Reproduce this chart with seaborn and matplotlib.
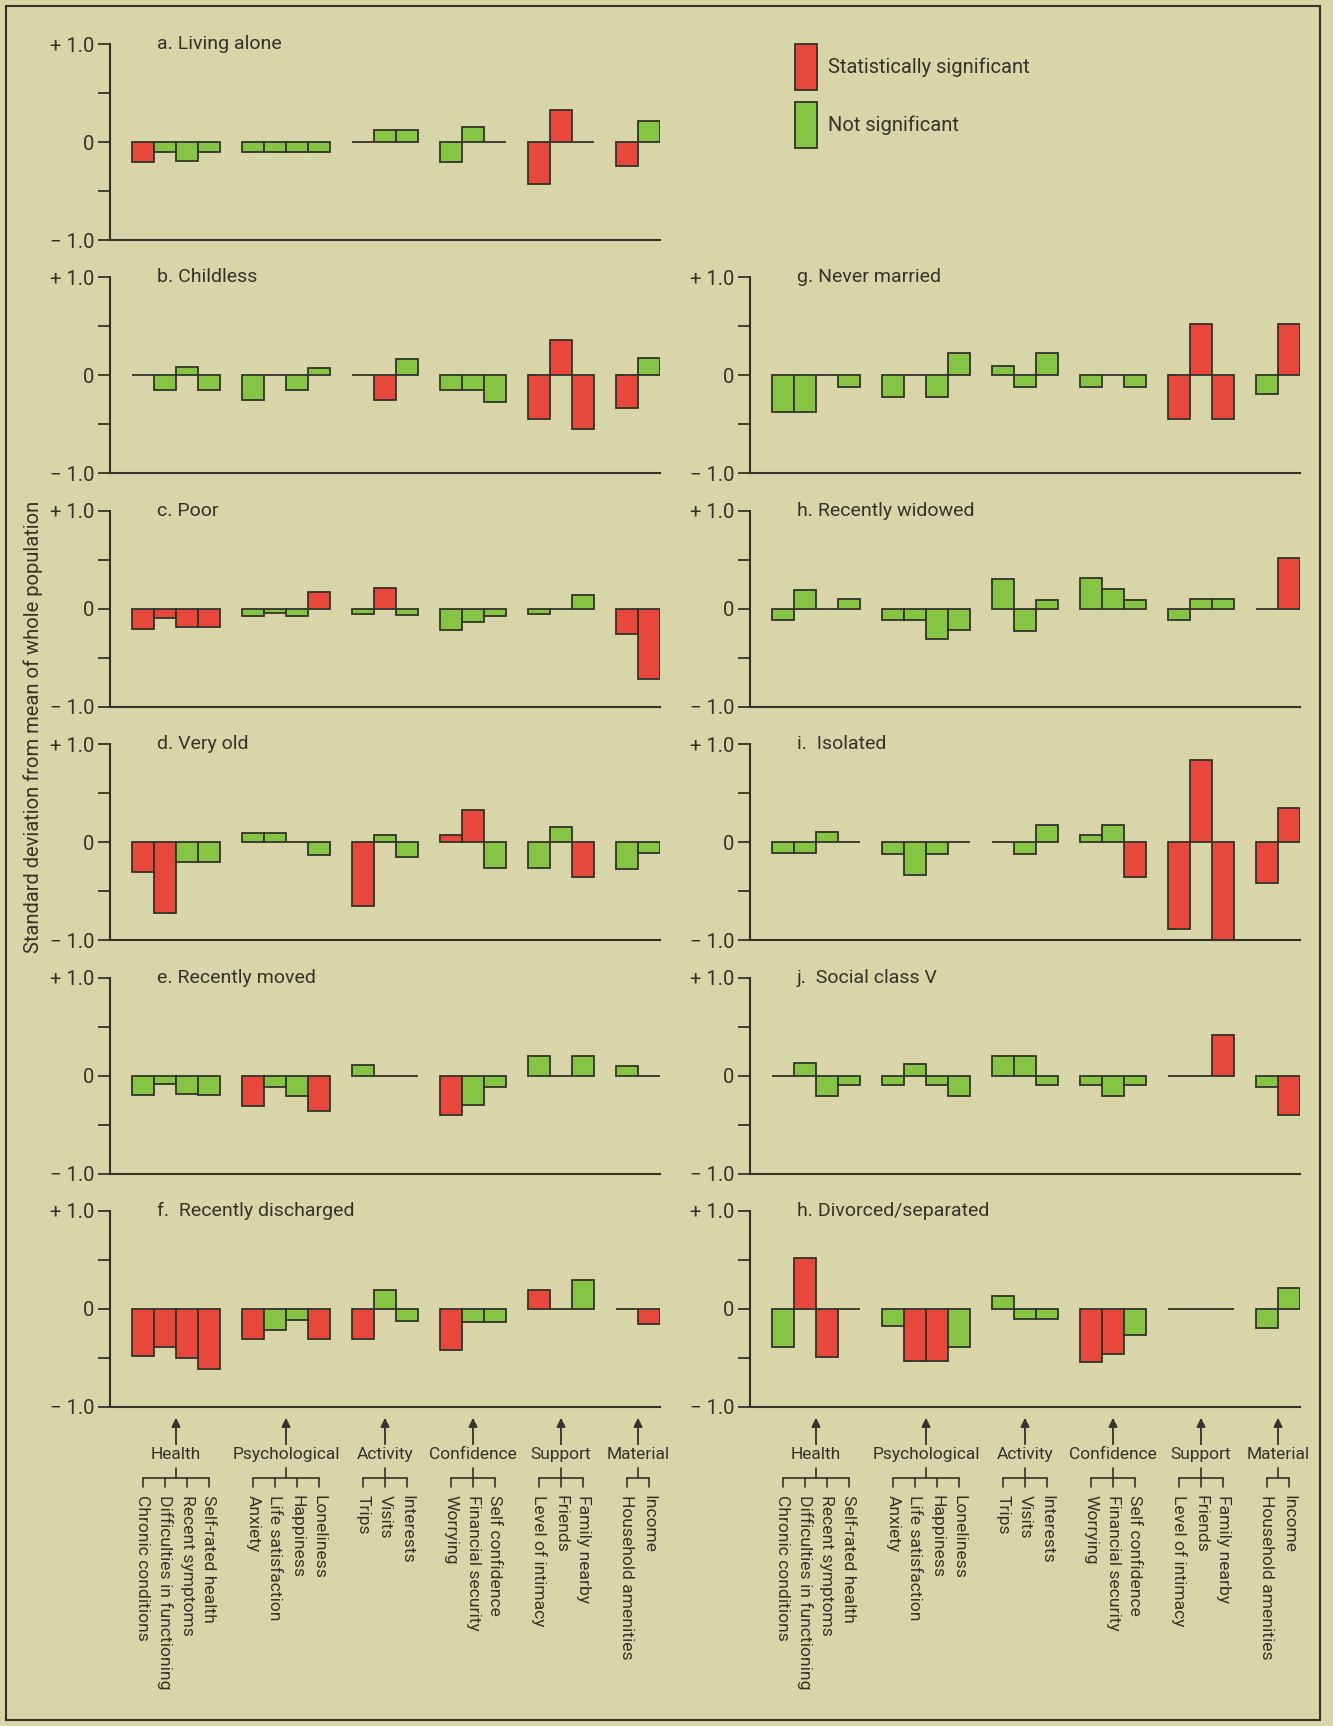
import numpy as np
import pandas as pd
import matplotlib
matplotlib.use("Agg")
import matplotlib.pyplot as plt
import matplotlib.transforms as mtransforms
from matplotlib.patches import Rectangle, Patch
import seaborn as sns

# ---------------- data ----------------
group_names = ["Health", "Psychological", "Activity", "Confidence", "Support", "Material"]
health = ["Chronic conditions", "Difficulties in functioning", "Recent symptoms", "Self-rated health"]
psychological = ["Anxiety", "Life satisfaction", "Happiness", "Loneliness"]
activity = ["Trips", "Visits", "Interests"]
confidence = ["Worrying", "Financial security", "Self confidence"]
support = ["Level of intimacy", "Friends", "Family nearby"]
material = ["Household amenities", "Income"]
group_items = [health, psychological, activity, confidence, support, material]

legend_labels = ["Statistically significant", "Not significant"]

# values (standard deviations from mean) and significance (S / N) per panel
a_title = "a. Living alone"
a_vals = [-0.20, -0.10, -0.19, -0.10, -0.10, -0.10, -0.10, -0.10, 0.0, 0.12, 0.12,
          -0.20, 0.15, 0.0, -0.43, 0.33, 0.0, -0.24, 0.21]
a_sig = "SNNN NNNN NNN NNN SSN SN"

b_title = "b. Childless"
b_vals = [0.0, -0.15, 0.09, -0.15, -0.25, 0.0, -0.15, 0.08, 0.0, -0.255, 0.165,
          -0.15, -0.15, -0.27, -0.45, 0.36, -0.55, -0.33, 0.18]
b_sig = "NNNN NNNN NSN NNN SSS SN"

c_title = "c. Poor"
c_vals = [-0.21, -0.095, -0.19, -0.19, -0.07, -0.04, -0.07, 0.17, -0.055, 0.21, -0.06,
          -0.22, -0.13, -0.07, -0.05, 0.0, 0.14, -0.26, -0.72]
c_sig = "SSSS NNNS NSN NNN NNN SS"

d_title = "d. Very old"
d_vals = [-0.30, -0.72, -0.20, -0.20, 0.09, 0.09, 0.0, -0.13, -0.65, 0.07, -0.15,
          0.07, 0.33, -0.26, -0.26, 0.16, -0.35, -0.27, -0.11]
d_sig = "SSNN NNNN SNN SSN NNS NN"

e_title = "e. Recently moved"
e_vals = [-0.20, -0.09, -0.19, -0.20, -0.31, -0.12, -0.21, -0.36, 0.107, 0.0, 0.0,
          -0.40, -0.30, -0.12, 0.20, 0.0, 0.20, 0.10, 0.0]
e_sig = "NNNN SNNS NNN SNN NNN NN"

f_title = "f.  Recently discharged"
f_vals = [-0.48, -0.39, -0.50, -0.61, -0.31, -0.21, -0.11, -0.31, -0.31, 0.19, -0.12,
          -0.42, -0.13, -0.13, 0.19, 0.0, 0.30, 0.0, -0.15]
f_sig = "SSSS SNNS SNN SNN SNN NS"

g_title = "g. Never married"
g_vals = [-0.37, -0.37, 0.0, -0.12, -0.22, 0.0, -0.22, 0.23, 0.10, -0.12, 0.23,
          -0.12, 0.0, -0.12, -0.44, 0.52, -0.44, -0.19, 0.52]
g_sig = "NNNN NNNN NNN NNN SSS NS"

h_title = "h. Recently widowed"
h_vals = [-0.115, 0.196, 0.0, 0.10, -0.115, -0.115, -0.31, -0.22, 0.30, -0.23, 0.09,
          0.31, 0.20, 0.09, -0.11, 0.095, 0.095, 0.0, 0.52]
h_sig = "NNNN NNNN NNN NNN NNN NS"

i_title = "i.  Isolated"
i_vals = [-0.11, -0.11, 0.10, 0.0, -0.125, -0.33, -0.125, 0.0, 0.0, -0.125, 0.18,
          0.075, 0.18, -0.35, -0.89, 0.84, -1.0, -0.42, 0.35]
i_sig = "NNNN NNNN NNN NNS SSS SS"

j_title = "j.  Social class V"
j_vals = [0.0, 0.124, -0.21, -0.10, -0.10, 0.114, -0.10, -0.21, 0.20, 0.20, -0.10,
          -0.10, -0.21, -0.10, 0.0, 0.0, 0.41, -0.12, -0.40]
j_sig = "NNNN NNNN NNN NNN NNS NS"

k_title = "h. Divorced/separated"
k_vals = [-0.385, 0.52, -0.49, 0.0, -0.17, -0.53, -0.53, -0.385, 0.13, -0.10, -0.10,
          -0.54, -0.46, -0.27, 0.0, 0.0, 0.0, -0.19, 0.21]
k_sig = "NSSN NSSN NNN SSN NNN NN"

left_panels = [(a_title, a_vals, a_sig), (b_title, b_vals, b_sig), (c_title, c_vals, c_sig),
               (d_title, d_vals, d_sig), (e_title, e_vals, e_sig), (f_title, f_vals, f_sig)]
right_panels = [None, (g_title, g_vals, g_sig), (h_title, h_vals, h_sig),
                (i_title, i_vals, i_sig), (j_title, j_vals, j_sig), (k_title, k_vals, k_sig)]

# ---------------- style ----------------
BG = "#d8d5a8"
RED = "#e8473c"
GREEN = "#86c443"
INK = "#33332a"

sns.set_theme(style="ticks")
plt.rcParams["font.family"] = ["Roboto", "DejaVu Sans"]
plt.rcParams["text.color"] = INK
plt.rcParams["axes.edgecolor"] = INK
plt.rcParams["xtick.color"] = INK
plt.rcParams["ytick.color"] = INK
plt.rcParams["axes.labelcolor"] = INK

W, H = 1333, 1726
fig = plt.figure(figsize=(W / 100, H / 100), dpi=100)
fig.patch.set_facecolor(BG)

# slot positions: bars adjacent inside a group, one empty slot between groups
positions = []
group_pos = []
slot = 0
for items in group_items:
    gp = []
    for _ in items:
        positions.append(slot)
        gp.append(slot)
        slot += 1
    group_pos.append(gp)
    slot += 1
measures = [m for items in group_items for m in items]

palette = {legend_labels[0]: RED, legend_labels[1]: GREEN}


def draw_panel(ax, title, vals, sig):
    flags = sig.replace(" ", "")
    df = pd.DataFrame({
        "pos": positions,
        "value": vals,
        "sig": [legend_labels[0] if f == "S" else legend_labels[1] for f in flags],
    })
    sns.barplot(data=df, x="pos", y="value", hue="sig", hue_order=legend_labels,
                palette=palette, native_scale=True, width=1.0, dodge=False,
                saturation=1, edgecolor=INK, linewidth=1.3, errorbar=None,
                legend=False, ax=ax)
    ax.set_xlim(-1.5, positions[-1] + 0.5)
    ax.set_ylim(-1, 1)
    ax.set_facecolor("none")
    ax.set_xlabel("")
    ax.set_ylabel("")
    ax.set_xticks([])
    ax.set_yticks([-1, -0.5, 0, 0.5, 1])
    ax.set_yticklabels(["\u2212 1.0", "", "0", "", "+ 1.0"])
    ax.tick_params(axis="y", direction="out", length=9, width=1.3, labelsize=14.5, pad=2)
    for s in ["top", "right"]:
        ax.spines[s].set_visible(False)
    for s in ["left", "bottom"]:
        ax.spines[s].set_linewidth(1.5)
        ax.spines[s].set_color(INK)
    ax.text(0.085, 1.0, title, transform=ax.transAxes, ha="left", va="center", fontsize=14)


def draw_categories(ax):
    trans = mtransforms.blended_transform_factory(ax.transData, ax.transAxes)
    idx = 0
    for gname, gp in zip(group_names, group_pos):
        cx = float(np.mean(gp))
        ax.annotate("", xy=(cx, -0.055), xytext=(cx, -0.19), xycoords=trans, textcoords=trans,
                    arrowprops=dict(arrowstyle="-|>", color=INK, lw=1.3, mutation_scale=13,
                                    shrinkA=0, shrinkB=0),
                    annotation_clip=False)
        ax.text(cx, -0.24, gname, transform=trans, ha="center", va="center", fontsize=12.5)
        yb = -0.36
        ax.plot([gp[0], gp[-1]], [yb, yb], transform=trans, color=INK, lw=1.2, clip_on=False)
        ax.plot([cx, cx], [yb, yb + 0.05], transform=trans, color=INK, lw=1.2, clip_on=False)
        for p in gp:
            ax.plot([p, p], [yb, yb - 0.05], transform=trans, color=INK, lw=1.2, clip_on=False)
            ax.text(p, -0.45, measures[idx], transform=trans, rotation=270,
                    ha="center", va="top", fontsize=12.6)
            idx += 1


AX_W = 550
AX_H = 196
row_centers = [142 + 233.4 * r for r in range(6)]
col_left = [110, 750]

for col, panels in enumerate([left_panels, right_panels]):
    for r, p in enumerate(panels):
        if p is None:
            continue
        top = row_centers[r] - AX_H / 2
        ax = fig.add_axes([col_left[col] / W, 1 - (top + AX_H) / H, AX_W / W, AX_H / H])
        draw_panel(ax, *p)
        if r == 5:
            draw_categories(ax)

# y label
fig.text(33 / W, 1 - 727 / H, "Standard deviation from mean of whole population",
         rotation=90, ha="center", va="center", fontsize=14.5)

# legend
handles = [Patch(facecolor=RED, edgecolor=INK, linewidth=1.3, label=legend_labels[0]),
           Patch(facecolor=GREEN, edgecolor=INK, linewidth=1.3, label=legend_labels[1])]
fig.legend(handles=handles, loc="upper left", bbox_to_anchor=(795 / W, 1 - 44 / H),
           frameon=False, handlelength=1.1, handleheight=3.1, handletextpad=0.55,
           labelspacing=0.62, borderpad=0, borderaxespad=0, fontsize=14.5)

# outer frame
fig.add_artist(Rectangle((6 / W, 1 - 1720 / H), (1320 - 6) / W, (1720 - 6) / H,
                         transform=fig.transFigure, fill=False, edgecolor=INK, linewidth=1.5))

fig.savefig("out.png", dpi=100, facecolor=BG)
